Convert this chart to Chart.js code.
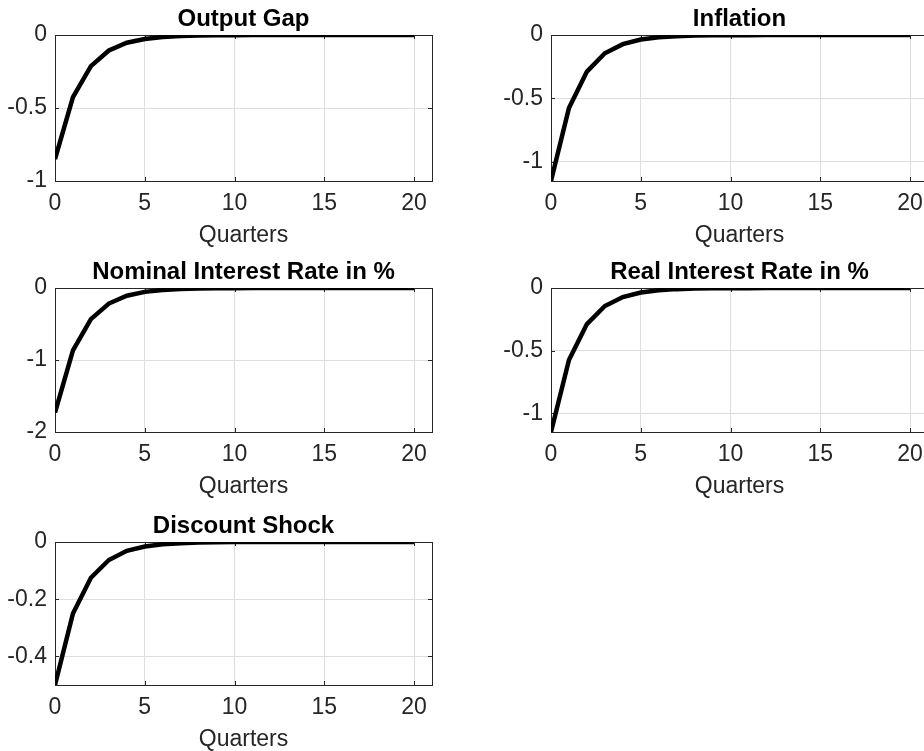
<!DOCTYPE html>
<html>
<head>
<meta charset="utf-8">
<script src="https://cdn.jsdelivr.net/npm/chart.js@4/dist/chart.umd.min.js"></script>
<style>
  html, body { margin: 0; padding: 0; background: #ffffff; width: 924px; height: 751px; overflow: hidden; position: relative; }
  canvas { position: absolute; }
</style>
</head>
<body>
<canvas id="c1"></canvas>
<canvas id="c2"></canvas>
<canvas id="c3"></canvas>
<canvas id="c4"></canvas>
<canvas id="c5"></canvas>
<script>
// ---------- data ----------
const quarters = [0,1,2,3,4,5,6,7,8,9,10,11,12,13,14,15,16,17,18,19,20];
const outputGap = [-0.85,-0.425,-0.213,-0.106,-0.053,-0.027,-0.013,-0.007,-0.003,-0.002,-0.001,0,0,0,0,0,0,0,0,0,0];
const inflation = [-1.15,-0.575,-0.288,-0.144,-0.072,-0.036,-0.018,-0.009,-0.004,-0.002,-0.001,-0.001,0,0,0,0,0,0,0,0,0];
const nominalRate = [-1.73,-0.865,-0.433,-0.216,-0.108,-0.054,-0.027,-0.014,-0.007,-0.003,-0.002,-0.001,0,0,0,0,0,0,0,0,0];
const realRate = [-1.15,-0.575,-0.288,-0.144,-0.072,-0.036,-0.018,-0.009,-0.004,-0.002,-0.001,-0.001,0,0,0,0,0,0,0,0,0];
const discountShock = [-0.5,-0.25,-0.125,-0.063,-0.031,-0.016,-0.008,-0.004,-0.002,-0.001,0,0,0,0,0,0,0,0,0,0,0];

const titles = ["Output Gap","Inflation","Nominal Interest Rate in %","Real Interest Rate in %","Discount Shock"];
const xLabel = "Quarters";
const xTicks = [0,5,10,15,20];
const yTicksOutput = [-1,-0.5,0];
const yTicksInflation = [-1,-0.5,0];
const yTicksNominal = [-2,-1,0];
const yTicksReal = [-1,-0.5,0];
const yTicksDiscount = [-0.4,-0.2,0];
const yRangeOutput = [-1,0];
const yRangeInflation = [-1.15,0];
const yRangeNominal = [-2,0];
const yRangeReal = [-1.15,0];
const yRangeDiscount = [-0.5,0];
const xRange = [0,21];

// ---------- styling / layout ----------
const FONT = "'Liberation Sans', Arial, Helvetica, sans-serif";
const FS = 23;
const TFS = 24;
const TEXT = '#262626';
const GRID = '#dedede';
const Y_W = 55, TITLE_H = 35, X_H = 72, PAD_R = 20, AREA_W = 377;

const boxPlugin = {
  id: 'matlabBox',
  beforeDatasetsDraw(chart) {
    const {ctx, chartArea: a, scales} = chart;
    const x = scales.x, y = scales.y;
    ctx.save();
    ctx.strokeStyle = TEXT;
    ctx.lineWidth = 1;
    const tl = 4;
    ctx.beginPath();
    x.ticks.forEach(t => {
      const px = Math.round(x.getPixelForValue(t.value)) + 0.5;
      ctx.moveTo(px, a.bottom); ctx.lineTo(px, a.bottom - tl);
      ctx.moveTo(px, a.top); ctx.lineTo(px, a.top + tl);
    });
    y.ticks.forEach(t => {
      const py = Math.round(y.getPixelForValue(t.value)) + 0.5;
      ctx.moveTo(a.left, py); ctx.lineTo(a.left + tl, py);
      ctx.moveTo(a.right, py); ctx.lineTo(a.right - tl, py);
    });
    ctx.stroke();
    ctx.strokeRect(Math.round(a.left) + 0.5, Math.round(a.top) + 0.5,
                   Math.round(a.right - a.left), Math.round(a.bottom - a.top));
    ctx.restore();
  }
};

function makePanel(id, left, top, areaH, title, values, yRange, yTicks) {
  const cv = document.getElementById(id);
  const w = Y_W + AREA_W + PAD_R;
  const h = TITLE_H + areaH + X_H;
  cv.width = w; cv.height = h;
  cv.style.left = (left - Y_W) + 'px';
  cv.style.top = (top - TITLE_H) + 'px';
  cv.style.width = w + 'px'; cv.style.height = h + 'px';
  const lh = FS * 1.2;
  const tlh = TFS * 1.2;
  const titleTop = 19 - tlh / 2;
  new Chart(cv, {
    type: 'line',
    data: {
      labels: quarters,
      datasets: [{
        data: values,
        borderColor: '#000000',
        borderWidth: 4.5,
        pointRadius: 0,
        tension: 0,
        fill: false
      }]
    },
    plugins: [boxPlugin],
    options: {
      responsive: false,
      animation: false,
      devicePixelRatio: 1,
      layout: { padding: { left: 0, right: PAD_R, top: 0, bottom: 0 } },
      plugins: {
        legend: { display: false },
        tooltip: { enabled: false },
        title: {
          display: true,
          fullSize: false,
          text: title,
          color: '#000000',
          font: { family: FONT, size: TFS, weight: 'bold', lineHeight: 1.2 },
          padding: { top: titleTop, bottom: TITLE_H - tlh - titleTop }
        }
      },
      scales: {
        x: {
          type: 'linear',
          min: xRange[0], max: xRange[1],
          afterBuildTicks: s => { s.ticks = xTicks.map(v => ({value: v})); },
          afterFit: s => { s.height = X_H; },
          grid: { color: GRID, drawTicks: false, lineWidth: 1 },
          border: { display: false },
          ticks: { color: TEXT, font: { family: FONT, size: FS }, padding: 22.4 - lh / 2, maxRotation: 0,
                   callback: v => String(v) },
          title: { display: true, text: xLabel, color: TEXT,
                   font: { family: FONT, size: FS, lineHeight: 1.2 },
                   padding: { top: 0, bottom: X_H - 55 - lh / 2 } }
        },
        y: {
          type: 'linear',
          min: yRange[0], max: yRange[1],
          afterBuildTicks: s => { s.ticks = yTicks.map(v => ({value: v})); },
          afterFit: s => { s.width = Y_W; },
          grid: { color: GRID, drawTicks: false, lineWidth: 1 },
          border: { display: false },
          ticks: { color: TEXT, font: { family: FONT, size: FS }, padding: 8,
                   callback: v => String(v) }
        }
      }
    }
  });
}

makePanel('c1', 55, 35, 146, titles[0], outputGap, yRangeOutput, yTicksOutput);
makePanel('c2', 551, 35, 146, titles[1], inflation, yRangeInflation, yTicksInflation);
makePanel('c3', 55, 288, 144, titles[2], nominalRate, yRangeNominal, yTicksNominal);
makePanel('c4', 551, 288, 144, titles[3], realRate, yRangeReal, yTicksReal);
makePanel('c5', 55, 542, 143, titles[4], discountShock, yRangeDiscount, yTicksDiscount);
</script>
</body>
</html>
